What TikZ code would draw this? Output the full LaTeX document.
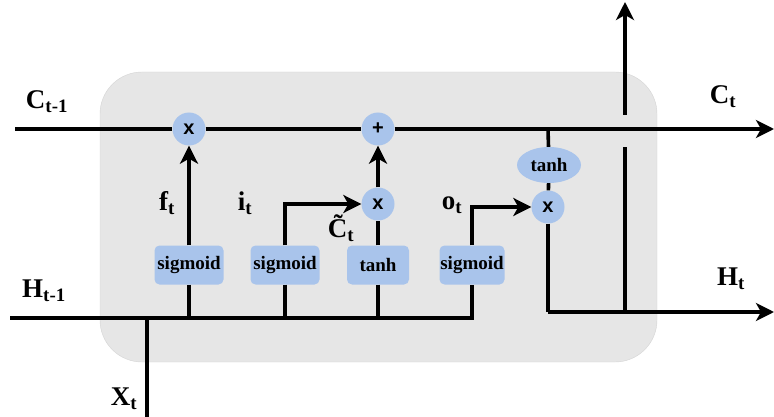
\documentclass[tikz,border=0pt]{standalone}
\usepackage{fontspec}
\setmainfont{Liberation Serif}
\newfontfamily\gatefont{Liberation Sans}
\usepackage{tikz}
\usetikzlibrary{arrows.meta,positioning,shapes.geometric}
\definecolor{gateblue}{RGB}{169,196,235}
\definecolor{cellgray}{RGB}{230,230,230}
\definecolor{cellline}{RGB}{212,212,212}

\begin{document}
\begin{tikzpicture}[x=1pt,y=-1pt,>={Stealth[length=18pt,width=18pt,inset=5pt]},
  flow/.style={line width=3.6pt},
  gate/.style={circle,fill=gateblue,minimum size=33pt,inner sep=0pt,font=\gatefont\bfseries\fontsize{20}{20}\selectfont},
  act/.style={rectangle,rounded corners=5pt,fill=gateblue,minimum height=39pt,inner sep=0pt,font=\bfseries\fontsize{19}{19}\selectfont},
  lbl/.style={font=\bfseries\fontsize{27}{27}\selectfont}]
\useasboundingbox (0,0) rectangle (774,417);
\fill[cellgray,draw=cellline,rounded corners=42pt] (100,72) rectangle (657,362);
% gates
\node[gate] (fx) at (189,129) {x};
\node[gate] (plus) at (378,129) {+};
\node[gate] (ix) at (378,204) {x};
\node[gate] (ox) at (548,207) {x};
\node[ellipse,fill=gateblue,minimum width=64pt,minimum height=36pt,inner sep=0pt,font=\bfseries\fontsize{19}{19}\selectfont] (th) at (549,165) {tanh};
\node[act,minimum width=69pt] (sf) at (189,265) {sigmoid};
\node[act,minimum width=69pt] (si) at (285,265) {sigmoid};
\node[act,minimum width=62pt] (tc) at (378,265) {tanh};
\node[act,minimum width=65pt] (so) at (472,265) {sigmoid};
% ends of the lines
\coordinate (cin) at (15,129);
\coordinate (cout) at (774,129);
\coordinate (hin) at (10,318);
\coordinate (hend) at (472,318);
\coordinate (xin) at (147,417);
\coordinate (xj) at (147,318);
\coordinate (ctap) at (548,129);
\coordinate (hc) at (548,312);
\coordinate (hout) at (774,312);
\coordinate (hsplit) at (625,312);
\coordinate (gaplo) at (625,147);
\coordinate (gaphi) at (625,115);
\coordinate (hup) at (625,2);
% cell state
\draw[flow] (cin) -- (fx) -- (plus);
\draw[flow,->] (plus) -- (cout);
% hidden state and input
\draw[flow] (hin) -- (hend) -- (so);
\draw[flow] (xin) -- (xj);
\draw[flow] (sf) -- (sf |- hend);
\draw[flow] (si) -- (si |- hend);
\draw[flow] (tc) -- (tc |- hend);
\draw[flow,->] (sf) -- (fx);
\draw[flow,->] (si.north) |- (ix);
\draw[flow] (tc) -- (ix);
\draw[flow,->] (ix) -- (plus);
\draw[flow,->] (so.north) |- (ox);
% output
\draw[flow] (ctap) -- (th) -- (ox);
\draw[flow] (ox) -- (hc);
\draw[flow,->] (hc) -- (hout);
\draw[flow] (hsplit) -- (gaplo);
\draw[flow,->] (gaphi) -- (hup);
% labels
\node[lbl] (lcprev) at (47,102) {C\textsubscript{t-1}};
\node[lbl] (lcnext) at (723,97) {C\textsubscript{t}};
\node[lbl] (lhprev) at (44,291) {H\textsubscript{t-1}};
\node[lbl] (lhnext) at (731,279) {H\textsubscript{t}};
\node[lbl] (lx) at (124,399) {X\textsubscript{t}};
\node[lbl] (lf) at (167,203) {f\textsubscript{t}};
\node[lbl] (li) at (245,203) {i\textsubscript{t}};
\node[lbl] (lct) at (341,228) {\~{C}\textsubscript{t}};
\node[lbl] (lo) at (452,205) {o\textsubscript{t}};
\end{tikzpicture}
\end{document}
